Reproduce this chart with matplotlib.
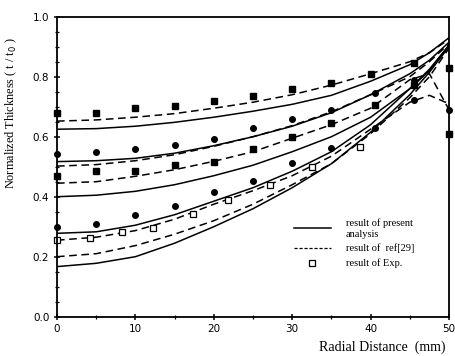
import numpy as np
import matplotlib
matplotlib.use("Agg")
import matplotlib.pyplot as plt
from matplotlib.ticker import MultipleLocator
from matplotlib.lines import Line2D

# radial positions (mm) used for the curves
x = [0, 5, 10, 15, 20, 25, 30, 35, 40, 45, 47.5, 50]

# present analysis (solid)
solid_1 = [0.625, 0.627, 0.635, 0.648, 0.665, 0.685, 0.708, 0.738, 0.785, 0.84, 0.88, 0.93]
solid_2 = [0.517, 0.520, 0.528, 0.545, 0.570, 0.600, 0.635, 0.680, 0.740, 0.810, 0.855, 0.915]
solid_3 = [0.400, 0.405, 0.418, 0.440, 0.470, 0.505, 0.550, 0.600, 0.665, 0.760, 0.820, 0.905]
solid_4 = [0.278, 0.283, 0.305, 0.340, 0.385, 0.430, 0.485, 0.550, 0.640, 0.760, 0.825, 0.905]
solid_5 = [0.167, 0.178, 0.200, 0.245, 0.300, 0.360, 0.430, 0.510, 0.615, 0.740, 0.815, 0.900]

# ref[29] (dashed)
dash_1 = [0.652, 0.656, 0.665, 0.677, 0.695, 0.715, 0.740, 0.772, 0.810, 0.850, 0.880, 0.925]
dash_2 = [0.502, 0.507, 0.520, 0.540, 0.568, 0.600, 0.637, 0.683, 0.740, 0.800, 0.850, 0.910]
dash_3 = [0.445, 0.450, 0.468, 0.490, 0.518, 0.550, 0.595, 0.640, 0.695, 0.790, 0.810, 0.690]
dash_4 = [0.255, 0.265, 0.287, 0.325, 0.375, 0.420, 0.470, 0.535, 0.625, 0.715, 0.738, 0.710]
dash_5 = [0.200, 0.210, 0.237, 0.275, 0.320, 0.375, 0.440, 0.510, 0.610, 0.730, 0.800, 0.895]

# measured points
sq1_x = [0, 5, 10, 15, 20, 25, 30, 35, 40, 45.5, 50]
sq1_y = [0.68, 0.678, 0.697, 0.702, 0.72, 0.735, 0.758, 0.78, 0.81, 0.847, 0.83]
ci2_x = [0, 5, 10, 15, 20, 25, 30, 35, 40.5, 45.5, 50]
ci2_y = [0.543, 0.55, 0.558, 0.574, 0.591, 0.628, 0.658, 0.689, 0.745, 0.79, 0.69]
sq3_x = [0, 5, 10, 15, 20, 25, 30, 35, 40.5, 45.5, 50]
sq3_y = [0.47, 0.485, 0.487, 0.506, 0.517, 0.558, 0.60, 0.645, 0.706, 0.772, 0.61]
ci4_x = [0, 5, 10, 15, 20, 25, 30, 35, 40.5, 45.5]
ci4_y = [0.30, 0.309, 0.339, 0.369, 0.415, 0.454, 0.512, 0.561, 0.628, 0.722]
exp_x = [0, 4.2, 8.3, 12.3, 17.3, 21.8, 27.2, 32.5, 38.7]
exp_y = [0.256, 0.263, 0.281, 0.295, 0.342, 0.389, 0.439, 0.498, 0.567]

serif = "Liberation Serif"

fig = plt.figure(figsize=(4.55, 3.56), dpi=100)
ax = fig.add_axes([0.1253, 0.1104, 0.8615, 0.8426])

for s in [solid_1, solid_2, solid_3, solid_4, solid_5]:
    ax.plot(x, s, color="black", lw=1.1)
for d in [dash_1, dash_2, dash_3, dash_4, dash_5]:
    ax.plot(x, d, color="black", lw=1.1, dashes=(5, 3))

ax.plot(sq1_x, sq1_y, "s", color="black", ms=4.2, clip_on=False)
ax.plot(ci2_x, ci2_y, "o", color="black", ms=4, clip_on=False)
ax.plot(sq3_x, sq3_y, "s", color="black", ms=4.2, clip_on=False)
ax.plot(ci4_x, ci4_y, "o", color="black", ms=4, clip_on=False)
ax.plot(exp_x, exp_y, "s", mfc="white", mec="black", mew=0.9, ms=4, clip_on=False)

ax.set_xlim(0, 50)
ax.set_ylim(0, 1.0)
ax.xaxis.set_major_locator(MultipleLocator(10))
ax.xaxis.set_minor_locator(MultipleLocator(5))
ax.yaxis.set_major_locator(MultipleLocator(0.2))
ax.yaxis.set_minor_locator(MultipleLocator(0.05))
ax.yaxis.set_major_formatter(plt.FuncFormatter(lambda v, p: f"{v:.1f}"))
ax.tick_params(which="major", direction="inout", length=5, width=1.1, labelsize=7.5, pad=3)
ax.tick_params(which="minor", direction="inout", length=3, width=0.9)
for sp in ax.spines.values():
    sp.set_linewidth(1.3)

ax.set_ylabel("Normalized Thickness ( t / t$_0$ )", fontfamily=serif, fontsize=8.8)
ax.yaxis.set_label_coords(-0.097, 0.68)
ax.set_xlabel("Radial Distance  (mm)", fontfamily=serif, fontsize=10)
ax.xaxis.set_label_coords(0.83, -0.078)

handles = [
    Line2D([], [], color="black", lw=1.1),
    Line2D([], [], color="black", lw=0.9, dashes=(2.5, 1.5)),
    Line2D([], [], ls="none", marker="s", mfc="white", mec="black", mew=0.9, ms=4),
]
labels = ["result of present\nanalysis", "result of  ref[29]", "result of Exp."]
ax.legend(handles, labels, loc="lower left", bbox_to_anchor=(0.58, 0.13),
          frameon=False, handlelength=3.6, handletextpad=1.4, labelspacing=0.5,
          prop={"family": serif, "size": 7.5})

fig.savefig("out.png", dpi=100)
